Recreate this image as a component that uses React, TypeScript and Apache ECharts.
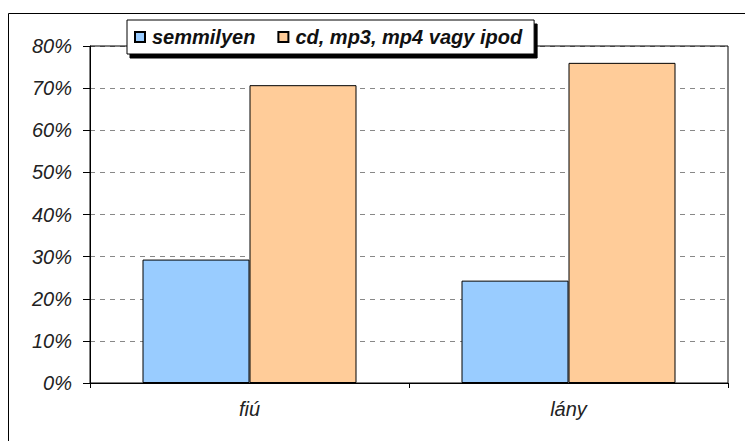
import React, { useEffect, useRef } from "react";
import * as echarts from "echarts";

const categories = ["fiú", "lány"];
const seriesNames = ["semmilyen", "cd, mp3, mp4 vagy ipod"];
const semmilyen = [29.3, 24.3];
const cdMp3 = [70.7, 76.0];
const yTicks = [0, 10, 20, 30, 40, 50, 60, 70, 80];

const FONT = "'Liberation Sans', Arial, sans-serif";

export default function App() {
  const ref = useRef<HTMLDivElement>(null);
  useEffect(() => {
    if (!ref.current) return;
    const chart = echarts.init(ref.current, undefined, { renderer: "svg" });
    chart.setOption({
      animation: false,
      backgroundColor: "#ffffff",
      graphic: [
        {
          type: "rect",
          shape: { x: 8.5, y: 13.5, width: 800, height: 500 },
          style: { fill: "none", stroke: "#000", lineWidth: 1 },
          z: 0,
        },
        {
          type: "rect",
          shape: { x: 90, y: 46, width: 638, height: 337 },
          style: { fill: "none", stroke: "#000", lineWidth: 1 },
          z: 5,
        },
      ],
      legend: {
        left: 127,
        top: 20,
        data: seriesNames,
        icon: "rect",
        itemWidth: 10,
        itemHeight: 10,
        itemGap: 22,
        padding: [7, 12, 7, 7],
        backgroundColor: "#fff",
        borderColor: "#000",
        borderWidth: 1,
        shadowColor: "#000",
        shadowBlur: 0,
        shadowOffsetX: 3,
        shadowOffsetY: 4,
        textStyle: {
          fontFamily: FONT,
          fontSize: 20,
          fontStyle: "italic",
          fontWeight: "bold",
          color: "#111",
          padding: [0, 0, 0, 2],
        },
        z: 10,
      },
      grid: { left: 90, right: 17, top: 46, bottom: 58, containLabel: false },
      xAxis: {
        type: "category",
        data: categories,
        axisLine: { lineStyle: { color: "#000", width: 1 } },
        axisTick: { show: true, length: 5, lineStyle: { color: "#000" } },
        axisLabel: {
          fontFamily: FONT,
          fontSize: 20,
          fontStyle: "italic",
          color: "#222",
          margin: 16,
        },
      },
      yAxis: {
        type: "value",
        min: 0,
        max: 80,
        interval: 10,
        axisLine: { show: true, lineStyle: { color: "#000", width: 1 } },
        axisTick: { show: true, length: 7, lineStyle: { color: "#000" } },
        axisLabel: {
          formatter: (v: number) => (yTicks.includes(v) ? v + "%" : ""),
          fontFamily: FONT,
          fontSize: 20,
          fontStyle: "italic",
          color: "#222",
          margin: 18,
        },
        splitLine: {
          show: true,
          lineStyle: { color: "#888", type: [5, 5], width: 1 },
        },
      },
      series: [
        {
          name: seriesNames[0],
          type: "bar",
          data: semmilyen,
          barWidth: 107,
          barGap: "0%",
          itemStyle: { color: "#99ccff", borderColor: "#000", borderWidth: 1 },
        },
        {
          name: seriesNames[1],
          type: "bar",
          data: cdMp3,
          barWidth: 107,
          barGap: "0%",
          itemStyle: { color: "#ffcc99", borderColor: "#000", borderWidth: 1 },
        },
      ],
    });
    return () => chart.dispose();
  }, []);
  return (
    <div
      ref={ref}
      style={{ position: "fixed", left: 0, top: 0, width: 745, height: 441 }}
    />
  );
}
